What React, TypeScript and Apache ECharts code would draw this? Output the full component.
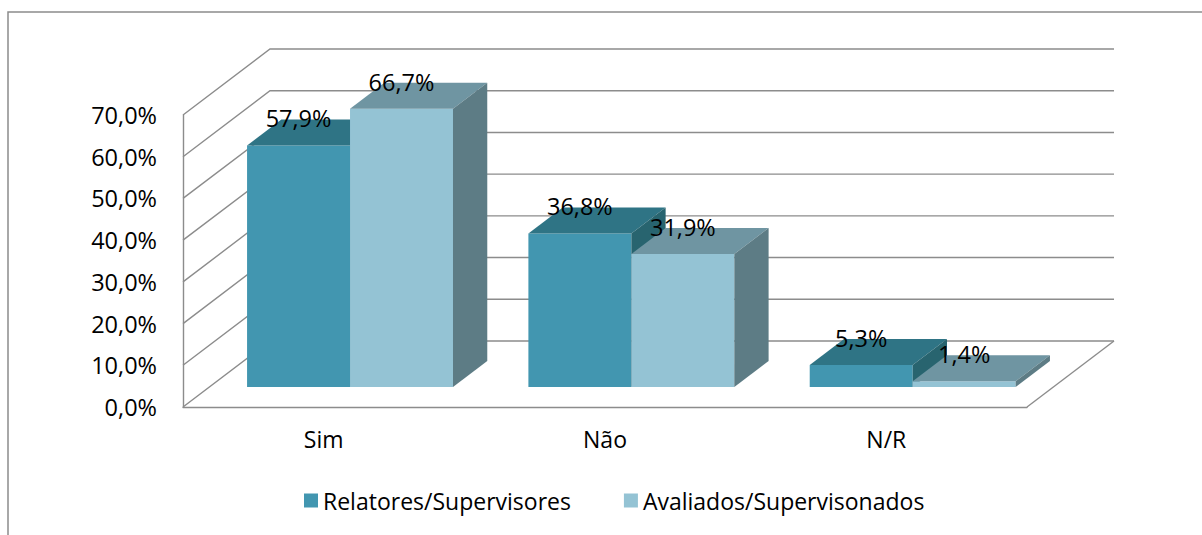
import React, { useEffect, useRef } from "react";
import * as echarts from "echarts";

const categories = ["Sim", "Não", "N/R"];
const seriesNames = ["Relatores/Supervisores", "Avaliados/Supervisonados"];
const relatores = [57.9, 36.8, 5.3];
const avaliados = [66.7, 31.9, 1.4];
const yTicks = [0, 10, 20, 30, 40, 50, 60, 70];

const FACES = [
  { front: "#4296B0", top: "#2F7485", side: "#28646F" },
  { front: "#94C3D4", top: "#6F95A2", side: "#5D7C85" },
];
const DX = 87;
const DY = -66;
const Z0 = 0.303;
const Z1 = 0.697;
const BAR_FRAC = 0.366;
const LINE = "#8C8C8C";
const FONT = "'Open Sans', Lato, sans-serif";
const FS_NUM = 23.5;
const FS_TXT = 23;

function fmt(v: number) {
  return v.toFixed(1).replace(".", ",") + "%";
}

function barGeom(api: any, s: number) {
  const cat = api.value(0);
  const val = api.value(1);
  const base = api.coord([cat, 0]);
  const top = api.coord([cat, val]);
  const band = api.size([1, 0])[0];
  const bw = band * BAR_FRAC;
  const xl = base[0] - bw + s * bw;
  const fx = DX * Z0, fy = DY * Z0, bx = DX * Z1, by = DY * Z1;
  return { xl, bw, yb: base[1], yt: top[1], fx, fy, bx, by };
}

function makeBarRender(s: number) {
  return (params: any, api: any) => {
    const g = barGeom(api, s);
    const f = FACES[s];
    const { xl, bw, yb, yt, fx, fy, bx, by } = g;
    const xr = xl + bw;
    return {
      type: "group",
      children: [
        {
          type: "polygon",
          shape: { points: [[xl + fx, yt + fy], [xr + fx, yt + fy], [xr + fx, yb + fy], [xl + fx, yb + fy]] },
          style: { fill: f.front },
        },
        {
          type: "polygon",
          shape: { points: [[xl + fx, yt + fy], [xr + fx, yt + fy], [xr + bx, yt + by], [xl + bx, yt + by]] },
          style: { fill: f.top },
        },
        {
          type: "polygon",
          shape: { points: [[xr + fx, yt + fy], [xr + bx, yt + by], [xr + bx, yb + by], [xr + fx, yb + fy]] },
          style: { fill: f.side },
        },
      ],
    };
  };
}

function labelRender(params: any, api: any) {
  const s = api.value(2);
  const g = barGeom(api, s);
  return {
    type: "text",
    x: g.xl + g.bw / 2 + g.fx,
    y: g.yt + g.fy - 27,
    style: {
      text: fmt(api.value(1)),
      fill: "#000",
      fontSize: FS_NUM,
      fontFamily: FONT,
      align: "center",
      verticalAlign: "middle",
    },
  };
}

function wallRender(params: any, api: any) {
  const cs = params.coordSys;
  const v = api.value(1);
  const y = api.coord([0, v])[1];
  const x0 = cs.x;
  const x1 = cs.x + cs.width;
  const st = { stroke: LINE, lineWidth: 1.4, fill: "none" };
  const children: any[] = [
    { type: "polyline", shape: { points: [[x0, y], [x0 + DX, y + DY], [x1 + DX, y + DY]] }, style: st },
  ];
  if (v === 0) {
    children.push({ type: "line", shape: { x1: x1, y1: y, x2: x1 + DX, y2: y + DY }, style: st });
  }
  return { type: "group", children };
}

export default function App() {
  const ref = useRef<HTMLDivElement>(null);
  useEffect(() => {
    if (!ref.current) return;
    const chart = echarts.init(ref.current, null, { renderer: "svg" });
    const seriesValues = [relatores, avaliados];
    const labelData: number[][] = [];
    seriesValues.forEach((arr, s) => arr.forEach((v, i) => labelData.push([i, v, s])));
    chart.setOption({
      animation: false,
      backgroundColor: "#fff",
      textStyle: { fontFamily: FONT },
      graphic: [
        {
          type: "rect",
          silent: true,
          z: -10,
          shape: { x: 8, y: 12, width: 1400, height: 800 },
          style: { fill: "none", stroke: LINE, lineWidth: 1.5 },
        },
      ],
      grid: { left: 183, top: 115, width: 844, height: 292 },
      legend: {
        data: seriesNames,
        left: 304,
        top: 489,
        padding: 0,
        itemWidth: 14,
        itemHeight: 14,
        itemGap: 53,
        icon: "rect",
        textStyle: { fontSize: FS_TXT, color: "#000", fontFamily: FONT },
      },
      xAxis: {
        type: "category",
        data: categories,
        axisLine: { lineStyle: { color: LINE, width: 1.4 } },
        axisTick: { show: false },
        axisLabel: { fontSize: FS_TXT, color: "#000", margin: 20, fontFamily: FONT },
      },
      yAxis: {
        type: "value",
        min: 0,
        max: 70,
        interval: 10,
        axisLine: { show: true, lineStyle: { color: LINE, width: 1.4 } },
        axisTick: { show: false },
        splitLine: { show: false },
        axisLabel: { fontSize: FS_NUM, color: "#000", margin: 26, fontFamily: FONT, formatter: (v: number) => fmt(v) },
      },
      series: [
        {
          type: "custom",
          name: "walls",
          z: 1,
          clip: false,
          silent: true,
          renderItem: wallRender,
          data: yTicks.map((v) => [0, v]),
        },
        {
          type: "custom",
          name: seriesNames[0],
          z: 2,
          clip: false,
          itemStyle: { color: FACES[0].front },
          renderItem: makeBarRender(0),
          data: relatores.map((v, i) => [i, v]),
        },
        {
          type: "custom",
          name: seriesNames[1],
          z: 2,
          clip: false,
          itemStyle: { color: FACES[1].front },
          renderItem: makeBarRender(1),
          data: avaliados.map((v, i) => [i, v]),
        },
        {
          type: "custom",
          name: "labels",
          z: 5,
          clip: false,
          silent: true,
          renderItem: labelRender,
          data: labelData,
        },
      ],
    });
    return () => chart.dispose();
  }, []);
  return <div ref={ref} style={{ position: "fixed", left: 0, top: 0, width: 1202, height: 535 }} />;
}
